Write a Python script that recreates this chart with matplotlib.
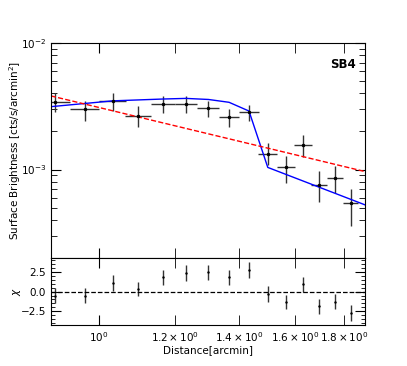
import numpy as np
import matplotlib
matplotlib.use('Agg')
import matplotlib.pyplot as plt

# surface brightness profile, SB4
r = [0.900, 0.967, 1.033, 1.099, 1.167, 1.232, 1.300, 1.366, 1.433,
     1.499, 1.565, 1.632, 1.696, 1.762, 1.829]
r_err = [0.033, 0.034, 0.033, 0.034, 0.033, 0.033, 0.034, 0.033, 0.034,
         0.034, 0.034, 0.034, 0.032, 0.034, 0.034]
sb = [3.44e-3, 3.00e-3, 3.49e-3, 2.63e-3, 3.30e-3, 3.30e-3, 3.05e-3, 2.58e-3, 2.84e-3,
      1.32e-3, 1.04e-3, 1.56e-3, 7.57e-4, 8.55e-4, 5.40e-4]
sb_hi = [4.01e-3, 3.49e-3, 4.06e-3, 3.15e-3, 3.82e-3, 3.82e-3, 3.49e-3, 3.00e-3, 3.25e-3,
         1.62e-3, 1.28e-3, 1.88e-3, 9.8e-4, 1.06e-3, 7.0e-4]
sb_lo = [2.87e-3, 2.44e-3, 2.90e-3, 2.18e-3, 2.79e-3, 2.78e-3, 2.60e-3, 2.17e-3, 2.40e-3,
         1.09e-3, 7.8e-4, 1.26e-3, 5.5e-4, 6.5e-4, 3.6e-4]

# broken power-law model (blue) and single power-law (red dashed)
model_r = [0.891, 1.033, 1.167, 1.232, 1.300, 1.366, 1.433, 1.499, 1.893]
model_sb = [3.14e-3, 3.49e-3, 3.61e-3, 3.65e-3, 3.58e-3, 3.40e-3, 2.90e-3, 1.04e-3, 5.26e-4]
pl_r = [0.891, 1.893]
pl_sb = [3.82e-3, 9.64e-4]

# residuals
chi = [-0.5, -0.5, 1.05, 0.3, 1.8, 2.3, 2.4, 1.8, 2.7,
       -0.3, -1.33, 0.92, -1.85, -1.26, -2.7]
chi_err = [0.95, 1.0, 1.0, 0.9, 0.95, 1.0, 0.95, 0.95, 0.95,
           1.0, 0.92, 0.95, 0.95, 0.9, 0.95]

sb = np.array(sb)
yerr = [sb - np.array(sb_lo), np.array(sb_hi) - sb]

plt.rcParams['font.size'] = 7.5
fig = plt.figure(figsize=(4.07, 3.66), dpi=100)
ax1 = fig.add_axes([0.125, 0.295, 0.772, 0.5875])
ax2 = fig.add_axes([0.125, 0.112, 0.772, 0.183], sharex=ax1)

ax1.errorbar(r, sb, xerr=r_err, yerr=yerr, fmt='.', color='black',
             ecolor='0.2', elinewidth=1, markersize=3)
ax1.plot(model_r, model_sb, color='blue', lw=1)
ax1.plot(pl_r, pl_sb, color='red', ls='--', lw=1)
ax1.set_xscale('log')
ax1.set_yscale('log')
ax1.set_xlim(0.891, 1.893)
ax1.set_ylim(2.0e-4, 1e-2)
ax1.set_ylabel('Surface Brightness [cts/s/arcmin$^2$]')
ax1.yaxis.set_label_coords(-0.09, 0.5)
ax1.text(0.97, 0.93, 'SB4', transform=ax1.transAxes, ha='right', va='top',
         fontsize=8.5, fontweight='bold')
ax1.tick_params(which='both', direction='in', top=True, right=True, labelbottom=False)
ax1.tick_params(which='major', length=7)
ax1.tick_params(which='minor', length=4)
ax1.tick_params(axis='x', which='minor', length=7)

ax2.errorbar(r, chi, yerr=chi_err, fmt='.', color='black', ecolor='0.2',
             elinewidth=1, markersize=1.5)
ax2.axhline(0, color='black', ls='--', lw=0.9)
ax2.set_ylim(-4.2, 4.2)
ax2.set_yticks([-2.5, 0.0, 2.5])
ax2.yaxis.set_minor_locator(matplotlib.ticker.MultipleLocator(0.5))
ax2.set_ylabel(r'$\chi$')
ax2.yaxis.set_label_coords(-0.09, 0.5)
ax2.set_xlabel('Distance[arcmin]', labelpad=1)
ax2.tick_params(which='both', direction='in', top=True, right=True)
ax2.tick_params(which='major', length=7)
ax2.tick_params(axis='y', which='minor', length=3)
ax2.tick_params(axis='x', which='minor', length=7)

fig.savefig('out.png', dpi=100)
